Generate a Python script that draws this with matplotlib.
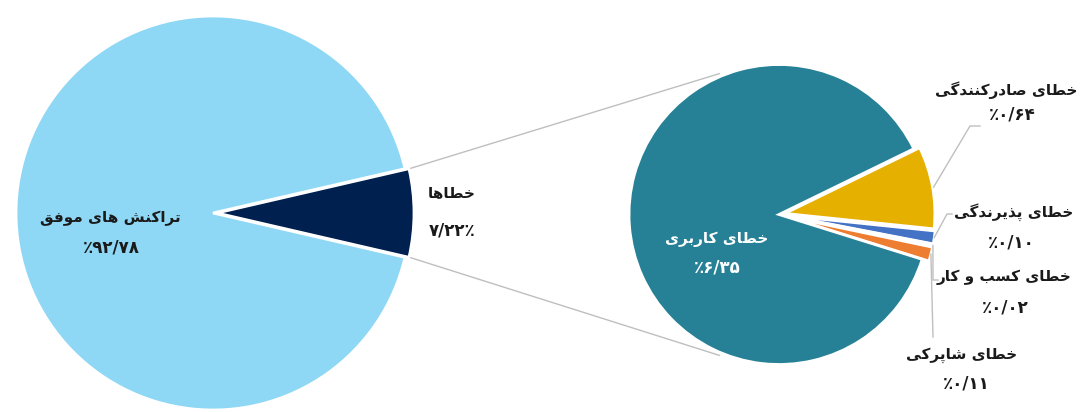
import numpy as np
import matplotlib
matplotlib.use('Agg')
import matplotlib.pyplot as plt

W, H = 1080, 412

# data (percent of all transactions)
main_labels = ['تراکنش های موفق', 'خطاها']
main_values = [92.78, 7.22]
error_labels = ['خطای صادرکنندگی', 'خطای پذیرندگی', 'خطای کسب و کار', 'خطای شاپرکی', 'خطای کاربری']
error_values = [0.64, 0.10, 0.02, 0.11, 6.35]

# contextual forms: isolated, final, initial, medial (None = does not join forward)
FORMS = {
    'ا': ('\uFE8D', '\uFE8E', None, None),
    'ب': ('\uFE8F', '\uFE90', '\uFE91', '\uFE92'),
    'پ': ('\uFB56', '\uFB57', '\uFB58', '\uFB59'),
    'ت': ('\uFE95', '\uFE96', '\uFE97', '\uFE98'),
    'خ': ('\uFEA5', '\uFEA6', '\uFEA7', '\uFEA8'),
    'د': ('\uFEA9', '\uFEAA', None, None),
    'ذ': ('\uFEAB', '\uFEAC', None, None),
    'ر': ('\uFEAD', '\uFEAE', None, None),
    'س': ('\uFEB1', '\uFEB2', '\uFEB3', '\uFEB4'),
    'ش': ('\uFEB5', '\uFEB6', '\uFEB7', '\uFEB8'),
    'ص': ('\uFEB9', '\uFEBA', '\uFEBB', '\uFEBC'),
    'ط': ('\uFEC1', '\uFEC2', '\uFEC3', '\uFEC4'),
    'ف': ('\uFED1', '\uFED2', '\uFED3', '\uFED4'),
    'ق': ('\uFED5', '\uFED6', '\uFED7', '\uFED8'),
    'ک': ('\uFB8E', '\uFB8F', '\uFB90', '\uFB91'),
    'گ': ('\uFB92', '\uFB93', '\uFB94', '\uFB95'),
    'م': ('\uFEE1', '\uFEE2', '\uFEE3', '\uFEE4'),
    'ن': ('\uFEE5', '\uFEE6', '\uFEE7', '\uFEE8'),
    'ه': ('\uFEE9', '\uFEEA', '\uFEEB', '\uFEEC'),
    'و': ('\uFEED', '\uFEEE', None, None),
    'ی': ('\uFBFC', '\uFBFD', '\uFBFE', '\uFBFF'),
}


def shape(text):
    """Join Persian letters and put them in visual (right-to-left) order."""
    out = []
    for i, c in enumerate(text):
        if c not in FORMS:
            out.append(c)
            continue
        prev = text[i - 1] if i > 0 else None
        nxt = text[i + 1] if i + 1 < len(text) else None
        jp = prev in FORMS and FORMS[prev][2] is not None
        jn = nxt in FORMS and FORMS[c][2] is not None
        iso, fin, ini, med = FORMS[c]
        out.append(med if (jp and jn) else fin if jp else ini if jn else iso)
    return ''.join(reversed(out))


def fa_pct(v, sign_left=True):
    digits = f'{v:.2f}'.replace('.', '/').translate(str.maketrans('0123456789', '۰۱۲۳۴۵۶۷۸۹'))
    return '٪' + digits if sign_left else digits + '٪'


plt.rcParams['font.family'] = ['DejaVu Sans']
fig = plt.figure(figsize=(W / 100, H / 100), dpi=100)
ax = fig.add_axes([0, 0, 1, 1])

# everything is laid out in pixel units (y measured from the bottom)
c1 = (213, H - 213)
r1 = 197
c2 = (779, H - 214.5)
r2 = 150

half1 = main_values[1] / 100 * 360 / 2
ax.pie(main_values[::-1], colors=['#002050', '#8ED8F6'], center=c1, radius=r1,
       startangle=half1, counterclock=False, explode=[4, 0],
       wedgeprops=dict(edgecolor='white', linewidth=2))

ax.pie(error_values, colors=['#E6B000', '#4472C4', '#A5A5A5', '#ED7D31', '#268196'],
       center=c2, radius=r2, startangle=26, counterclock=False,
       explode=[6, 7, 7, 7, 0],
       wedgeprops=dict(edgecolor='white', linewidth=2))

# connector lines between the two pies
line_kw = dict(color='#BFBFBF', linewidth=1)
for s in (1, -1):
    a1 = np.radians(s * half1)
    a2 = np.radians(s * 113)
    ax.plot([c1[0] + 4 + r1 * 1.01 * np.cos(a1), c2[0] + r2 * 1.02 * np.cos(a2)],
            [c1[1] + r1 * 1.01 * np.sin(a1), c2[1] + r2 * 1.02 * np.sin(a2)], **line_kw)

# leader lines for the small slices
start = 26
mids = []
for v in error_values:
    span = v / sum(error_values) * 360
    mids.append(start - span / 2)
    start -= span


def edge_pt(i, off=7):
    a = np.radians(mids[i])
    return c2[0] + (r2 + off) * np.cos(a), c2[1] + (r2 + off) * np.sin(a)


leaders = [[(970, H - 126), (980, H - 126)],
           [(947, H - 214), (952, H - 214)],
           [(933, H - 280), (938, H - 280)],
           [(933, H - 337)]]
for i, pts in enumerate(leaders):
    p0 = edge_pt(i)
    xs = [p0[0]] + [p[0] for p in pts]
    ys = [p0[1]] + [p[1] for p in pts]
    ax.plot(xs, ys, **line_kw)

name_kw = dict(va='center', fontsize=11, fontweight='bold', color='#1A1A1A')
pct_kw = dict(ha='center', va='center', fontsize=12, fontweight='bold', color='#1A1A1A')

ax.text(110, H - 218, shape(main_labels[0]), ha='center', **name_kw)
ax.text(111, H - 247, fa_pct(main_values[0]), **pct_kw)
ax.text(452, H - 193, shape(main_labels[1]), ha='center', **name_kw)
ax.text(452, H - 230, fa_pct(main_values[1], sign_left=False), **pct_kw)

# (x, y, anchor) of each name, then centre of its percent
label_pos = [((1077, 90, 'right'), (1012, 114)),
             ((1073, 212, 'right'), (1011, 242)),
             ((1071, 277, 'right'), (1005, 307)),
             ((1017, 355, 'right'), (966, 383)),
             ((717, 239, 'center'), (717, 268))]
for i, ((nx, ny, ha), (px, py)) in enumerate(label_pos):
    nk = dict(name_kw)
    pk = dict(pct_kw)
    if i == 4:
        nk['color'] = pk['color'] = 'white'
    ax.text(nx, H - ny, shape(error_labels[i]), ha=ha, **nk)
    ax.text(px, H - py, fa_pct(error_values[i]), **pk)

ax.set_xlim(0, W)
ax.set_ylim(0, H)
ax.set_aspect('equal')
ax.axis('off')
fig.savefig('out.png', dpi=100)
